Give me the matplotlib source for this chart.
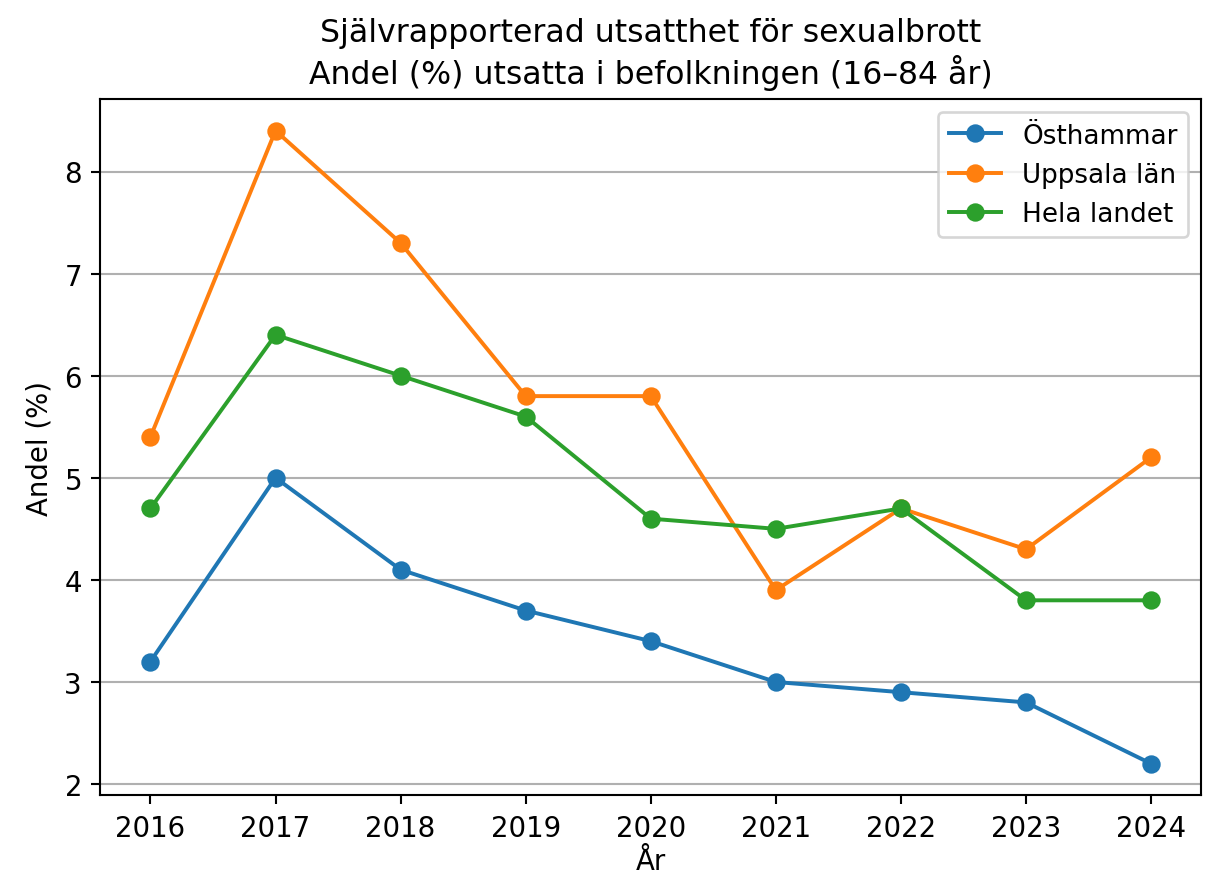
import matplotlib.pyplot as plt

years = [2016, 2017, 2018, 2019, 2020, 2021, 2022, 2023, 2024]
osthammar = [3.2, 5.0, 4.1, 3.7, 3.4, 3.0, 2.9, 2.8, 2.2]
uppsala_lan = [5.4, 8.4, 7.3, 5.8, 5.8, 3.9, 4.7, 4.3, 5.2]
hela_landet = [4.7, 6.4, 6.0, 5.6, 4.6, 4.5, 4.7, 3.8, 3.8]

fig, ax = plt.subplots(figsize=(6.4, 4.64), dpi=189)

ax.plot(years, osthammar, marker='o', label='Östhammar')
ax.plot(years, uppsala_lan, marker='o', label='Uppsala län')
ax.plot(years, hela_landet, marker='o', label='Hela landet')

ax.set_title('Självrapporterad utsatthet för sexualbrott\nAndel (%) utsatta i befolkningen (16–84 år)', fontsize=12)
ax.set_xlabel('År', fontsize=10.5, labelpad=2)
ax.set_ylabel('Andel (%)', fontsize=10.5)
ax.set_xticks(years)
ax.tick_params(labelsize=10.5)
ax.grid(True, axis='y')
ax.legend(loc='upper right')

fig.subplots_adjust(left=0.083, right=0.993, top=0.886, bottom=0.092)
plt.savefig('out.png')
